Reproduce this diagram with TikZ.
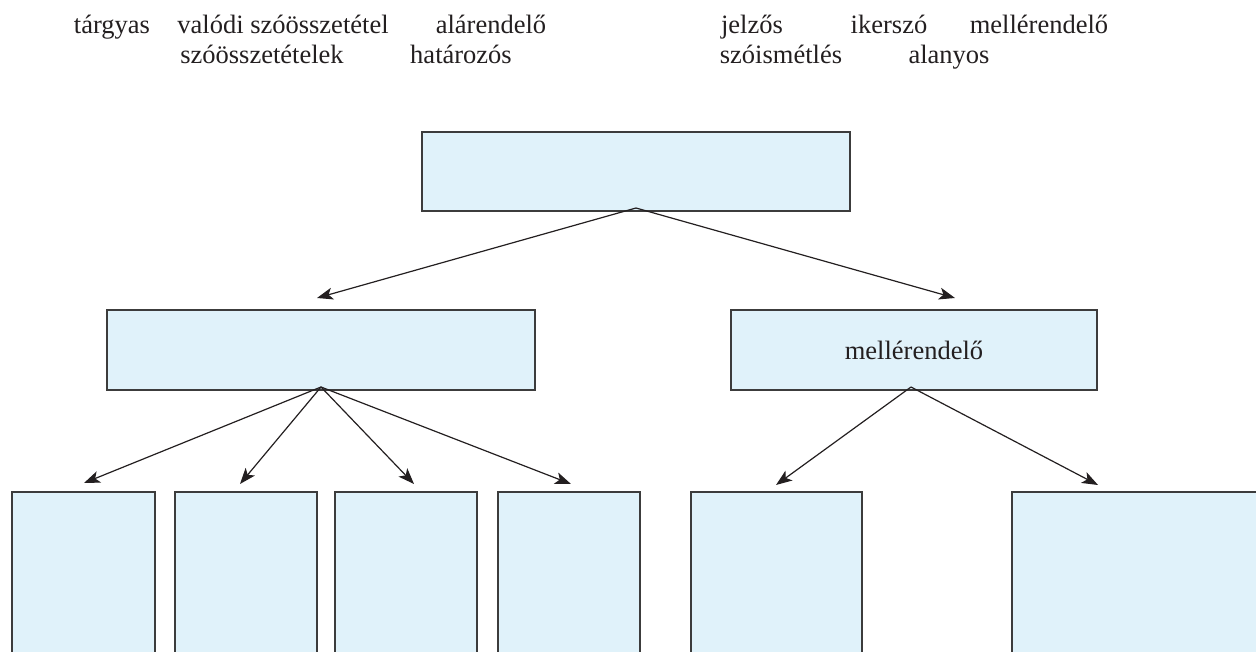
\documentclass[tikz,border=0pt]{standalone}
\usepackage{fontspec}
\setmainfont{Liberation Serif}
\usetikzlibrary{arrows.meta}
\definecolor{boxfill}{HTML}{E0F2FA}
\definecolor{boxline}{HTML}{3C3C3C}
\definecolor{ink}{HTML}{231F20}
\tikzset{
  box/.style={draw=boxline, fill=boxfill, line width=1.3pt, inner sep=0pt, outer sep=0pt},
  word/.style={text=ink, anchor=base, inner sep=0pt, font=\fontsize{26.5}{30}\selectfont},
  arr/.style={draw=ink, line width=1.2pt, -{Stealth[length=16pt,width=12pt,inset=4pt]}}
}
\begin{document}
\begin{tikzpicture}[x=1pt,y=-1pt]
\useasboundingbox (0,0) rectangle (1256,652);
\clip (0,0) rectangle (1256,652);
% word bank
\node[word] (w1) at (112,34) {tárgyas};
\node[word] (w2) at (283,34) {valódi szóösszetétel};
\node[word] (w3) at (491,34) {alárendelő};
\node[word] (w4) at (752,34) {jelzős};
\node[word] (w5) at (889,34) {ikerszó};
\node[word] (w6) at (1039,34) {mellérendelő};
\node[word] (w7) at (262,64) {szóösszetételek};
\node[word] (w8) at (461,64) {határozós};
\node[word] (w9) at (781,64) {szóismétlés};
\node[word] (w10) at (949,64) {alanyos};
% boxes
\node[box, minimum width=428pt, minimum height=79pt] (top) at (636,171.5) {};
\node[box, minimum width=428pt, minimum height=80pt] (m1) at (321,350) {};
\node[box, minimum width=366pt, minimum height=80pt, text=ink, font=\fontsize{26.5}{30}\selectfont] (m2) at (914,350) {mellérendelő};
\node[box, minimum width=143pt, minimum height=220pt] (b1) at (83.5,602) {};
\node[box, minimum width=142pt, minimum height=220pt] (b2) at (246,602) {};
\node[box, minimum width=142pt, minimum height=220pt] (b3) at (406,602) {};
\node[box, minimum width=142pt, minimum height=220pt] (b4) at (569,602) {};
\node[box, minimum width=171pt, minimum height=220pt] (b5) at (776.5,602) {};
\node[box, minimum width=290pt, minimum height=220pt] (b6) at (1157,602) {};
% connector start and tip points
\coordinate (s0) at ([yshift=3pt]top.south);
\coordinate (s1) at ([yshift=3pt]m1.south);
\coordinate (s2) at ([xshift=-3pt,yshift=3pt]m2.south);
\coordinate (t1) at (317,298);
\coordinate (t2) at (955,298);
\coordinate (t3) at (84,483);
\coordinate (t4) at (240,484);
\coordinate (t5) at (414,484);
\coordinate (t6) at (571,484);
\coordinate (t7) at (776,485);
\coordinate (t8) at (1098,485);
\draw[arr] (s0) -- (t1);
\draw[arr] (s0) -- (t2);
\draw[arr] (s1) -- (t3);
\draw[arr] (s1) -- (t4);
\draw[arr] (s1) -- (t5);
\draw[arr] (s1) -- (t6);
\draw[arr] (s2) -- (t7);
\draw[arr] (s2) -- (t8);
\end{tikzpicture}
\end{document}
